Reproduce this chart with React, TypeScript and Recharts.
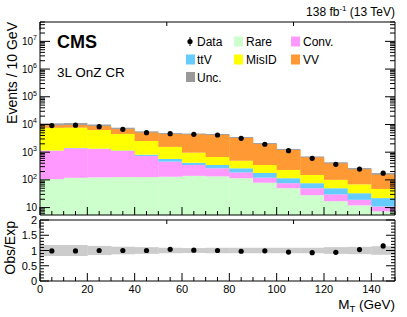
import {
  ComposedChart,
  Bar,
  Scatter,
  XAxis,
  YAxis,
  ReferenceArea,
  ErrorBar,
} from "recharts";

const FONT = "'Liberation Sans', Arial, Helvetica, sans-serif";

// lower edges of the 10 GeV bins in M_T
const binLow = [0, 10, 20, 30, 40, 50, 60, 70, 80, 90, 100, 110, 120, 130, 140];

// expected yields per process (stack order bottom -> top)
const rare = [107, 120, 123, 126, 126, 130, 140, 134, 115, 79, 50, 28, 17, 12, 7.3];
const conv = [1020, 1260, 1180, 975, 605, 325, 205, 128, 72, 41, 26, 22, 13, 7, 3.7];
const ttv = [25, 40, 40, 50, 80, 115, 70, 83, 75, 58, 39, 26, 20, 14, 11];
const misid = [6550, 6280, 4960, 3400, 1720, 980, 545, 325, 228, 167, 113, 74, 50, 36, 25];
const vv = [1600, 1840, 2400, 2250, 2570, 2950, 3400, 3500, 2760, 1605, 972, 495, 290, 171, 108];

// observed events
const observed = [9100, 9400, 8300, 6700, 5050, 4660, 4400, 4170, 3170, 1930, 1130, 600, 365, 245, 175];

// relative uncertainty on the prediction
const relUnc = [0.18, 0.18, 0.15, 0.125, 0.11, 0.09, 0.08, 0.09, 0.09, 0.09, 0.09, 0.09, 0.11, 0.12, 0.14];

// ratio panel
const ratio = [0.985, 0.985, 1.0, 1.0, 1.0, 1.04, 1.01, 1.0, 0.975, 0.99, 0.95, 0.93, 0.94, 1.03, 1.15];
const ratioErr = [0.01, 0.01, 0.011, 0.012, 0.014, 0.015, 0.015, 0.016, 0.018, 0.023, 0.03, 0.04, 0.05, 0.065, 0.08];

const COLORS = {
  rare: "#ccffcc",
  conv: "#ff99ff",
  ttv: "#66ccff",
  misid: "#ffff00",
  vv: "#ff9933",
};

const rows = binLow.map((lo, i) => {
  const total = rare[i] + conv[i] + ttv[i] + misid[i] + vv[i];
  return {
    lo,
    x: lo + 5,
    rare: rare[i],
    conv: conv[i],
    ttv: ttv[i],
    misid: misid[i],
    vv: vv[i],
    total,
    unc: relUnc[i],
    data: observed[i],
    ratio: ratio[i],
    ratioErr: ratioErr[i],
  };
});

const Y_MIN = 5.4;
const Y_MAX = 5e7;

const xTicks = Array.from({ length: 31 }, (_, i) => i * 5);
const logTicks: number[] = [];
for (let n = 0; n <= 7; n++) {
  for (let m = 1; m <= 9; m++) {
    const v = m * Math.pow(10, n);
    if (v >= Y_MIN && v <= Y_MAX) logTicks.push(v);
  }
}
const ratioTicks = Array.from({ length: 21 }, (_, i) => Math.round(i) / 10);

const isDecade = (v: number) => {
  const e = Math.log10(v);
  return Math.abs(e - Math.round(e)) < 1e-6;
};
const isHalf = (v: number) => Math.abs(v * 2 - Math.round(v * 2)) < 1e-6;

function xTick(dir: number, labels: boolean) {
  return (p: any) => {
    const v = p.payload.value;
    const major = v % 20 === 0;
    return (
      <g>
        <line x1={p.x} x2={p.x} y1={p.y} y2={p.y + dir * (major ? 8 : 4)} stroke="#000" />
        {labels && major && (
          <text x={p.x} y={p.y + 12} textAnchor="middle" fontSize={11} fontFamily={FONT} fill="#000">
            {v}
          </text>
        )}
      </g>
    );
  };
}

function logTick(dir: number, labels: boolean) {
  return (p: any) => {
    const v = p.payload.value;
    const major = isDecade(v);
    const e = Math.round(Math.log10(v));
    return (
      <g>
        <line x1={p.x} x2={p.x + dir * (major ? 10 : 5)} y1={p.y} y2={p.y} stroke="#000" />
        {labels && major && (
          <text x={p.x - 3} y={p.y + 3.5} textAnchor="end" fontSize={10} fontFamily={FONT} fill="#000">
            10
            {e > 1 ? (
              <tspan dy={-4.5} fontSize={7}>
                {e}
              </tspan>
            ) : null}
          </text>
        )}
      </g>
    );
  };
}

function ratioTick(dir: number, labels: boolean) {
  return (p: any) => {
    const v = p.payload.value;
    const major = isHalf(v);
    return (
      <g>
        <line x1={p.x} x2={p.x + dir * (major ? 9 : 4)} y1={p.y} y2={p.y} stroke="#000" />
        {labels && major && (
          <text x={p.x - 3} y={p.y + 4} textAnchor="end" fontSize={11} fontFamily={FONT} fill="#000">
            {v}
          </text>
        )}
      </g>
    );
  };
}

const dot = (p: any) => <circle cx={p.cx} cy={p.cy} r={2.6} fill="#000" />;

function Overlay() {
  const t = { fontFamily: FONT, fill: "#000" };
  return (
    <svg
      width={407}
      height={317}
      style={{ position: "absolute", left: 0, top: 0, pointerEvents: "none" }}
    >
      <text x={395} y={16} textAnchor="end" fontSize={12} {...t}>
        138 fb
        <tspan dy={-5} fontSize={8}>
          -1
        </tspan>
        <tspan dy={5}> (13 TeV)</tspan>
      </text>
      <text x={57} y={48} fontSize={18} fontWeight="bold" {...t}>
        CMS
      </text>
      <text x={57} y={77} fontSize={13.5} {...t}>
        3L OnZ CR
      </text>

      {/* legend */}
      <line x1={190} x2={190} y1={37} y2={46} stroke="#000" />
      <circle cx={190} cy={41.5} r={2.6} fill="#000" />
      <text x={197} y={46} fontSize={12} {...t}>Data</text>
      <rect x={234} y={36.5} width={9} height={10} fill={COLORS.rare} />
      <text x={246} y={46} fontSize={12} {...t}>Rare</text>
      <rect x={291} y={36.5} width={9} height={10} fill={COLORS.conv} />
      <text x={303} y={46} fontSize={12} {...t}>Conv.</text>

      <rect x={186} y={54.5} width={9} height={10} fill={COLORS.ttv} />
      <text x={197} y={64} fontSize={12} {...t}>ttV</text>
      <rect x={234} y={54.5} width={9} height={10} fill={COLORS.misid} />
      <text x={246} y={64} fontSize={12} {...t}>MisID</text>
      <rect x={291} y={54.5} width={9} height={10} fill={COLORS.vv} />
      <text x={303} y={64} fontSize={12} {...t}>VV</text>

      <rect x={186} y={72} width={9} height={10} fill="#999" />
      <text x={197} y={82} fontSize={12} {...t}>Unc.</text>

      {/* axis titles */}
      <text transform="translate(17,22) rotate(-90)" textAnchor="end" fontSize={14} {...t}>
        Events / 10 GeV
      </text>
      <text transform="translate(15,221) rotate(-90)" textAnchor="end" fontSize={14} {...t}>
        Obs/Exp
      </text>
      <text x={395} y={309} textAnchor="end" fontSize={13.5} {...t}>
        M
        <tspan dy={3} fontSize={9.5}>
          T
        </tspan>
        <tspan dy={-3}> (GeV)</tspan>
      </text>
    </svg>
  );
}

export default function App() {
  return (
    <div
      style={{
        position: "absolute",
        left: 0,
        top: 0,
        width: 407,
        height: 317,
        background: "#fff",
        fontFamily: FONT,
      }}
    >
      {/* main stacked histogram */}
      <div style={{ position: "absolute", left: 0, top: 0 }}>
        <ComposedChart
          width={407}
          height={222}
          data={rows}
          margin={{ top: 17, right: 7, bottom: 2, left: 10 }}
          barCategoryGap={0}
          barGap={0}
        >
          <XAxis
            xAxisId="b"
            dataKey="x"
            type="number"
            domain={[0, 150]}
            allowDataOverflow
            ticks={xTicks}
            interval={0}
            tickSize={0}
            tickMargin={0}
            height={5}
            tickLine={false}
            axisLine={{ stroke: "#000" }}
            tick={xTick(-1, false)}
          />
          <XAxis
            xAxisId="t"
            orientation="top"
            type="number"
            domain={[0, 150]}
            allowDataOverflow
            ticks={xTicks}
            interval={0}
            tickSize={0}
            tickMargin={0}
            height={5}
            tickLine={false}
            axisLine={{ stroke: "#000" }}
            tick={xTick(1, false)}
          />
          <YAxis
            yAxisId="l"
            type="number"
            scale="log"
            domain={[Y_MIN, Y_MAX]}
            allowDataOverflow
            ticks={logTicks}
            interval={0}
            tickSize={0}
            tickMargin={0}
            width={30}
            tickLine={false}
            axisLine={{ stroke: "#000" }}
            tick={logTick(1, true)}
          />
          <YAxis
            yAxisId="r"
            orientation="right"
            type="number"
            scale="log"
            domain={[Y_MIN, Y_MAX]}
            allowDataOverflow
            ticks={logTicks}
            interval={0}
            tickSize={0}
            tickMargin={0}
            width={5}
            tickLine={false}
            axisLine={{ stroke: "#000" }}
            tick={logTick(-1, false)}
          />
          <Bar xAxisId="b" yAxisId="l" dataKey="rare" stackId="s" fill={COLORS.rare} isAnimationActive={false} />
          <Bar xAxisId="b" yAxisId="l" dataKey="conv" stackId="s" fill={COLORS.conv} isAnimationActive={false} />
          <Bar xAxisId="b" yAxisId="l" dataKey="ttv" stackId="s" fill={COLORS.ttv} isAnimationActive={false} />
          <Bar xAxisId="b" yAxisId="l" dataKey="misid" stackId="s" fill={COLORS.misid} isAnimationActive={false} />
          <Bar xAxisId="b" yAxisId="l" dataKey="vv" stackId="s" fill={COLORS.vv} isAnimationActive={false} />
          {rows.map((r) => (
            <ReferenceArea
              key={r.lo}
              xAxisId="b"
              yAxisId="l"
              x1={r.lo}
              x2={r.lo + 10}
              y1={r.total * (1 - r.unc)}
              y2={r.total * (1 + r.unc)}
              fill="#555"
              fillOpacity={0.55}
              stroke="none"
            />
          ))}
          <Scatter xAxisId="b" yAxisId="l" dataKey="data" shape={dot} isAnimationActive={false} />
        </ComposedChart>
      </div>

      {/* ratio panel */}
      <div style={{ position: "absolute", left: 0, top: 215 }}>
        <ComposedChart
          width={407}
          height={102}
          data={rows}
          margin={{ top: 0, right: 7, bottom: 6, left: 10 }}
          barCategoryGap={0}
          barGap={0}
        >
          <XAxis
            xAxisId="b"
            dataKey="x"
            type="number"
            domain={[0, 150]}
            allowDataOverflow
            ticks={xTicks}
            interval={0}
            tickSize={0}
            tickMargin={0}
            height={30}
            tickLine={false}
            axisLine={{ stroke: "#000" }}
            tick={xTick(-1, true)}
          />
          <XAxis
            xAxisId="t"
            orientation="top"
            type="number"
            domain={[0, 150]}
            allowDataOverflow
            ticks={xTicks}
            interval={0}
            tickSize={0}
            tickMargin={0}
            height={5}
            tickLine={false}
            axisLine={{ stroke: "#000" }}
            tick={xTick(1, false)}
          />
          <YAxis
            yAxisId="l"
            type="number"
            domain={[0, 2]}
            allowDataOverflow
            ticks={ratioTicks}
            interval={0}
            tickSize={0}
            tickMargin={0}
            width={30}
            tickLine={false}
            axisLine={{ stroke: "#000" }}
            tick={ratioTick(1, true)}
          />
          <YAxis
            yAxisId="r"
            orientation="right"
            type="number"
            domain={[0, 2]}
            allowDataOverflow
            ticks={ratioTicks}
            interval={0}
            tickSize={0}
            tickMargin={0}
            width={5}
            tickLine={false}
            axisLine={{ stroke: "#000" }}
            tick={ratioTick(-1, false)}
          />
          <Bar
            xAxisId="b"
            yAxisId="l"
            dataKey={(d: any) => [1 - d.unc, 1 + d.unc]}
            fill="#cccccc"
            isAnimationActive={false}
          />
          <Scatter xAxisId="b" yAxisId="l" dataKey="ratio" shape={dot} isAnimationActive={false}>
            <ErrorBar dataKey="ratioErr" direction="y" width={0} stroke="#000" strokeWidth={1.2} />
          </Scatter>
        </ComposedChart>
      </div>

      <Overlay />
    </div>
  );
}
